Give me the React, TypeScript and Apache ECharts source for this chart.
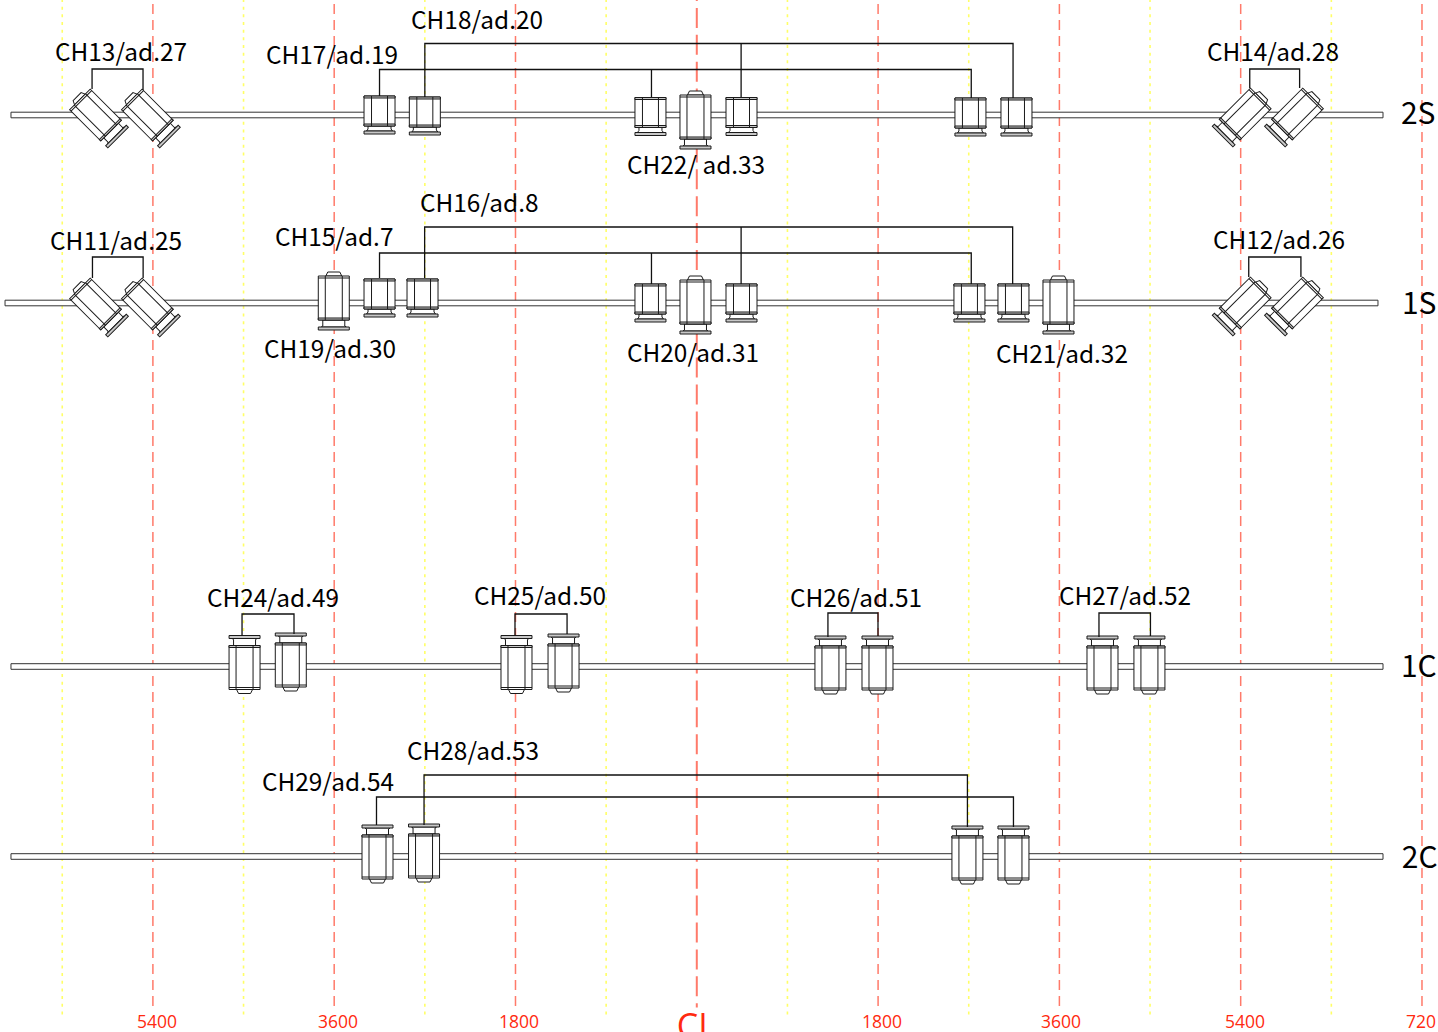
import React, { useEffect, useRef } from "react";
import * as echarts from "echarts";

// Positions along the deck in mm from the centre line (CL); rows on a drawing-height scale.
const redGuides = [-5400, -3600, -1800, 1800, 3600, 5400, 7200];
const centreGuide = [0];
const yellowGuides = [-6300, -4500, -2700, -900, 900, 2700, 4500, 6300];

const pipeRows = [
  { name: "2S", from: -6809, to: 6813, y: 115 },
  { name: "1S", from: -6868, to: 6763, y: 303 },
  { name: "1C", from: -6809, to: 6813, y: 666.5 },
  { name: "2C", from: -6809, to: 6813, y: 856.5 },
];

// kind: s = short body, l = long body; mount: u = flange below, d = flange above,
// r = tilted with flange to lower right, t = tilted with flange to lower left
const valves: [number, number, string, string][] = [
  [-5970, 115, "l", "r"], [-5455, 115, "l", "r"], [5445, 114, "l", "t"], [5964, 114, "l", "t"],
  [-3150, 111, "s", "u"], [-2700, 112, "s", "u"], [-460, 112.5, "s", "u"], [-13, 117, "l", "u"],
  [444, 112.5, "s", "u"], [2717, 113, "s", "u"], [3174, 113, "s", "u"],
  [-5970, 304, "l", "r"], [-5455, 304, "l", "r"], [5445, 303, "l", "t"], [5964, 303, "l", "t"],
  [-3604, 298, "l", "u"], [-3150, 294, "s", "u"], [-2723, 294, "s", "u"], [-460, 299, "s", "u"],
  [-13, 302, "l", "u"], [444, 299, "s", "u"], [2707, 299, "s", "u"], [3144, 299, "s", "u"],
  [3591, 302, "l", "u"],
  [-4490, 667.5, "l", "d"], [-4031, 665, "l", "d"], [-1790, 667.5, "l", "d"], [-1323, 666, "l", "d"],
  [1327, 668, "l", "d"], [1794, 668, "l", "d"], [4028, 668, "l", "d"], [4494, 668, "l", "d"],
  [-3170, 857, "l", "d"], [-2708, 856, "l", "d"], [2687, 858, "l", "d"], [3144, 858, "l", "d"],
];

// Wiring brackets: [x, y] vertices along each run
const ties: [number, number][][] = [
  [[-6004, 89], [-6004, 69], [-5498, 69], [-5498, 90]],
  [[5490, 88], [5490, 69], [5985, 69], [5985, 88]],
  [[-3150, 96], [-3150, 69.5], [2725, 69.5], [2725, 98]],
  [[-450, 69.5], [-450, 97]],
  [[-2700, 97], [-2700, 43.5], [3140, 43.5], [3140, 98]],
  [[440, 43.5], [440, 97]],
  [[-6000, 278], [-6000, 257], [-5497, 257], [-5497, 278]],
  [[5480, 277], [5480, 257], [5998, 257], [5998, 277]],
  [[-2702, 278], [-2702, 227], [3136, 227], [3136, 284]],
  [[440, 227], [440, 284]],
  [[-3150, 278], [-3150, 253], [2725, 253], [2725, 284]],
  [[-450, 253], [-450, 284]],
  [[-4515, 636], [-4515, 614], [-3999, 614], [-3999, 634]],
  [[-1805, 636], [-1805, 614], [-1288, 614], [-1288, 634]],
  [[1302, 637], [1302, 613], [1799, 613], [1799, 636]],
  [[3993, 637], [3993, 613], [4504, 613], [4504, 636]],
  [[-2708, 825], [-2708, 775], [2687, 775], [2687, 827]],
  [[-3180, 825], [-3180, 797], [3144, 797], [3144, 827]],
];

const channelLabels: [string, number, number][] = [
  ["CH13/ad.27", -6372, 50], ["CH18/ad.20", -2837, 18], ["CH17/ad.19", -4277, 53],
  ["CH14/ad.28", 5065, 50], ["CH22/ ad.33", -693, 163], ["CH16/ad.8", -2748, 201],
  ["CH15/ad.7", -4188, 235], ["CH11/ad.25", -6421, 239], ["CH12/ad.26", 5125, 238],
  ["CH19/ad.30", -4297, 347], ["CH20/ad.31", -693, 351], ["CH21/ad.32", 2970, 352],
  ["CH24/ad.49", -4863, 596], ["CH25/ad.50", -2212, 594], ["CH26/ad.51", 925, 596],
  ["CH27/ad.52", 3596, 594], ["CH28/ad.53", -2877, 749], ["CH29/ad.54", -4317, 780],
];

const rowLabels: [string, number, number][] = [
  ["2S", 6991, 111], ["1S", 7001, 301], ["1C", 6991, 664], ["2C", 7000, 855],
];

const scaleLabels: [string, number][] = [
  ["5400", -5359], ["3600", -3562], ["1800", -1765], ["1800", 1839], ["3600", 3617], ["5400", 5443], ["720", 7191],
];
const centreLabel: [string, number] = ["CL", -4];

const INK = "#1a1a1a";
const RED = "#ff7a6a";
const YELLOW = "#ffff66";
const LABEL_RED = "#ff2a10";
const BAND = "#c8c8c8";
const GOTHIC = '"Noto Sans CJK JP", "Noto Sans", sans-serif';

const line = (x1: number, y1: number, x2: number, y2: number) => ({
  type: "line",
  shape: { x1, y1, x2, y2 },
  style: { stroke: INK, lineWidth: 1, fill: "none" },
});
const box = (x: number, y: number, width: number, height: number, fill = "#fff") => ({
  type: "rect",
  shape: { x, y, width, height },
  style: { stroke: INK, lineWidth: 1, fill },
});
const poly = (points: number[][]) => ({
  type: "polygon",
  shape: { points },
  style: { stroke: INK, lineWidth: 1, fill: "#fff" },
});

function shortValve() {
  return [
    poly([[-11.5, 15], [-11.5, 18], [-13, 20], [13, 20], [11.5, 18], [11.5, 15]]),
    box(-15.5, 20, 31, 3, BAND),
    box(-15.5, -15, 31, 30),
    box(-15.5, -15, 31, 2, BAND),
    box(-15.5, 13, 31, 2, BAND),
    line(-8, -15, -8, 15),
    line(8, -15, 8, 15),
  ];
}
function longValve() {
  return [
    poly([[-8, -22], [-6, -26], [6, -26], [8, -22]]),
    poly([[-11, 22], [-11, 28], [-12.5, 29], [12.5, 29], [11, 28], [11, 22]]),
    box(-15.5, 29, 31, 3, BAND),
    box(-15.5, -22, 31, 44),
    box(-15.5, 20, 31, 2, BAND),
    line(-8.5, -22, -8.5, 22),
    line(8.5, -22, 8.5, 22),
    line(-15.5, -20, 15.5, -20),
  ];
}

function guideSeries(xs: number[], endY: number, stroke: string, lineWidth: number, dash: number[], dashOffset: number) {
  return {
    type: "custom",
    silent: true,
    clip: false,
    data: xs.map((x) => [x, endY]),
    encode: { x: 0, y: 1 },
    renderItem: (_: any, api: any) => {
      const bottom = api.coord([api.value(0), api.value(1)]);
      const top = api.coord([api.value(0), 0]);
      return {
        type: "line",
        shape: { x1: top[0], y1: top[1], x2: bottom[0], y2: bottom[1] },
        style: { stroke, lineWidth, lineDash: dash, lineDashOffset: dashOffset, fill: "none" },
      };
    },
  };
}

function textSeries(items: [string, number, number][], font: { size: number; family: string; fill: string; align: string }) {
  return {
    type: "custom",
    silent: true,
    clip: false,
    z: 5,
    data: items.map((d) => [d[1], d[2]]),
    encode: { x: 0, y: 1 },
    renderItem: (params: any, api: any) => {
      const p = api.coord([api.value(0), api.value(1)]);
      return {
        type: "text",
        x: p[0],
        y: p[1],
        style: {
          text: items[params.dataIndex][0],
          fontSize: font.size,
          fontFamily: font.family,
          fill: font.fill,
          align: font.align,
          verticalAlign: "middle",
        },
      };
    },
  };
}

export default function App() {
  const ref = useRef<HTMLDivElement>(null);
  useEffect(() => {
    document.body.style.margin = "0";
    document.body.style.overflow = "hidden";
    const chart = echarts.init(ref.current!, undefined, { renderer: "svg" });
    chart.setOption({
      animation: false,
      backgroundColor: "#fff",
      grid: { left: 0, right: 0, top: 0, bottom: 0 },
      xAxis: { type: "value", min: -6918, max: 7359, show: false },
      yAxis: { type: "value", min: 0, max: 1032, inverse: true, show: false },
      tooltip: { show: false },
      series: [
        guideSeries(yellowGuides, 1018.5, YELLOW, 1.6, [3, 4.67], 0.9),
        guideSeries(redGuides, 1012, RED, 1.5, [10, 6], 12),
        guideSeries(centreGuide, 1007.5, RED, 2, [20, 6.9], 19),
        {
          type: "custom",
          silent: true,
          clip: false,
          data: pipeRows.map((r) => [r.from, r.y, r.to]),
          encode: { x: 0, y: 1 },
          renderItem: (_: any, api: any) => {
            const a = api.coord([api.value(0), api.value(1)]);
            const b = api.coord([api.value(2), api.value(1)]);
            return {
              type: "rect",
              shape: { x: a[0], y: a[1] - 2.8, width: b[0] - a[0], height: 5.6 },
              style: { fill: "#fff", stroke: "#333", lineWidth: 1 },
            };
          },
        },
        {
          type: "custom",
          silent: true,
          clip: false,
          z: 3,
          data: valves.map((v) => [v[0], v[1]]),
          encode: { x: 0, y: 1 },
          renderItem: (params: any, api: any) => {
            const p = api.coord([api.value(0), api.value(1)]);
            const [, , kind, mount] = valves[params.dataIndex];
            const tilted = mount === "r" || mount === "t";
            return {
              type: "group",
              x: p[0],
              y: p[1],
              rotation: mount === "r" ? Math.PI / 4 : mount === "t" ? -Math.PI / 4 : 0,
              scaleX: tilted ? 0.94 : 1,
              scaleY: mount === "d" ? -1 : 1,
              children: kind === "s" ? shortValve() : longValve(),
            };
          },
        },
        {
          type: "custom",
          silent: true,
          clip: false,
          z: 4,
          data: ties.map((t) => t[0]),
          encode: { x: 0, y: 1 },
          renderItem: (params: any, api: any) => ({
            type: "polyline",
            shape: { points: ties[params.dataIndex].map((pt) => api.coord(pt)) },
            style: { stroke: "#111", lineWidth: 1.3, fill: "none" },
          }),
        },
        textSeries(channelLabels, { size: 24.4, family: GOTHIC, fill: "#000", align: "left" }),
        textSeries(rowLabels, { size: 30, family: GOTHIC, fill: "#000", align: "left" }),
        textSeries(
          scaleLabels.map((s) => [s[0], s[1], 1021] as [string, number, number]),
          { size: 17.5, family: '"Open Sans", sans-serif', fill: LABEL_RED, align: "center" }
        ),
        textSeries(
          [[centreLabel[0], centreLabel[1], 1025]],
          { size: 34, family: '"Open Sans", sans-serif', fill: LABEL_RED, align: "center" }
        ),
      ],
    });
    return () => chart.dispose();
  }, []);
  return <div ref={ref} style={{ width: 1438, height: 1032, display: "block" }} />;
}
